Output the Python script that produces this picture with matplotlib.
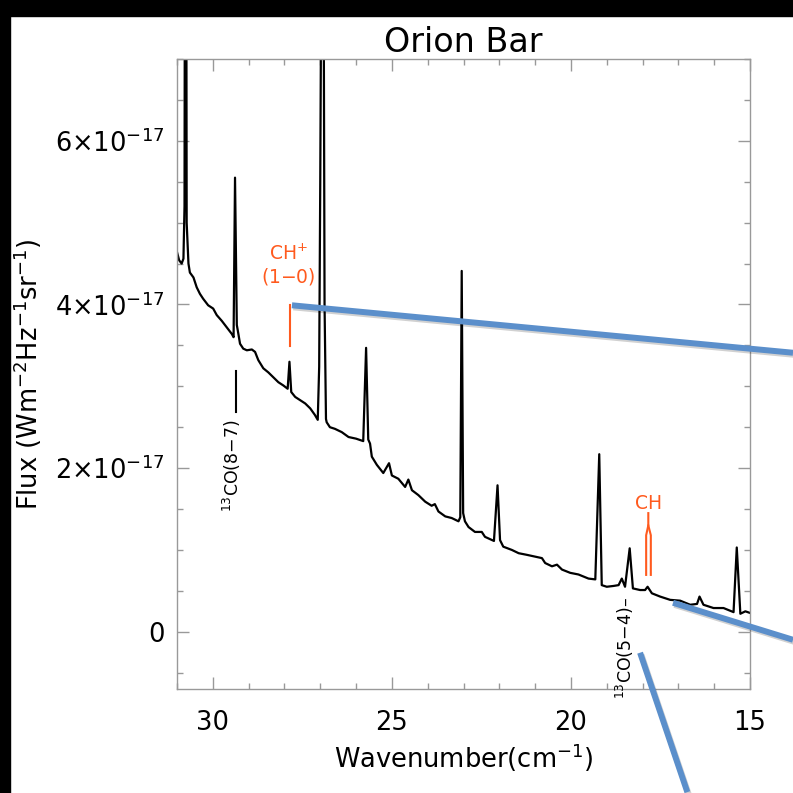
import numpy as np
import matplotlib
matplotlib.use("Agg")
import matplotlib.pyplot as plt
import matplotlib.patheffects as pe
from matplotlib.ticker import MultipleLocator, FuncFormatter
from matplotlib.patches import Rectangle

plt.rcParams["font.family"] = ["DejaVu Sans"]
plt.rcParams["mathtext.default"] = "regular"

# Spectrum: wavenumber (cm-1), flux (units of 1e-17 W m-2 Hz-1 sr-1)
wavenumber = [
    31.00, 30.94, 30.87, 30.82, 30.79, 30.76, 30.73, 30.68, 30.64, 30.54,
    30.45, 30.36, 30.27, 30.13, 29.99, 29.89, 29.75, 29.61, 29.47, 29.42,
    29.38, 29.33, 29.29, 29.24, 29.15, 29.05, 28.91, 28.82, 28.73, 28.59,
    28.45, 28.31, 28.17, 28.03, 27.91, 27.86, 27.81, 27.70, 27.56, 27.42,
    27.28, 27.15, 27.07, 27.03, 27.00, 26.93, 26.88, 26.84, 26.82, 26.73,
    26.59, 26.40, 26.21, 26.00, 25.80, 25.72, 25.66, 25.61, 25.56, 25.42,
    25.24, 25.08, 25.00, 24.82, 24.63, 24.54, 24.44, 24.26, 24.07, 23.89,
    23.80, 23.70, 23.51, 23.33, 23.14, 23.09, 23.05, 23.01, 22.96, 22.86,
    22.68, 22.49, 22.40, 22.15, 22.05, 21.98, 21.89, 21.65, 21.46, 21.23,
    20.81, 20.72, 20.53, 20.39, 20.25, 20.02, 19.79, 19.51, 19.32, 19.21,
    19.14, 19.00, 18.81, 18.67, 18.58, 18.49, 18.36, 18.27, 18.07, 17.93,
    17.86, 17.74, 17.51, 17.23, 16.95, 16.67, 16.48, 16.41, 16.30, 16.02,
    15.74, 15.46, 15.37, 15.27, 15.13, 15.00,
]
flux = [
    4.64, 4.54, 4.50, 4.56, 5.20, 15.0, 5.00, 4.50, 4.39, 4.33,
    4.21, 4.13, 4.07, 3.99, 3.95, 3.87, 3.80, 3.72, 3.64, 3.60,
    5.55, 3.75, 3.65, 3.52, 3.46, 3.44, 3.45, 3.42, 3.32, 3.22,
    3.17, 3.11, 3.05, 3.01, 2.97, 3.30, 2.93, 2.87, 2.83, 2.79,
    2.73, 2.65, 2.59, 3.24, 5.50, 12.0, 4.00, 2.60, 2.56, 2.50,
    2.48, 2.44, 2.38, 2.36, 2.33, 3.47, 2.35, 2.30, 2.14, 2.04,
    1.94, 2.06, 1.91, 1.87, 1.77, 1.86, 1.73, 1.67, 1.59, 1.54,
    1.56, 1.47, 1.41, 1.39, 1.35, 1.40, 4.41, 1.45, 1.35, 1.28,
    1.22, 1.22, 1.16, 1.11, 1.79, 1.12, 1.04, 1.00, 0.96, 0.94,
    0.90, 0.84, 0.80, 0.82, 0.76, 0.72, 0.70, 0.65, 0.64, 2.17,
    0.57, 0.55, 0.56, 0.57, 0.65, 0.55, 1.02, 0.53, 0.51, 0.51,
    0.55, 0.47, 0.43, 0.39, 0.38, 0.33, 0.34, 0.43, 0.33, 0.29,
    0.29, 0.24, 1.03, 0.22, 0.25, 0.23,
]
scale = 1e-17

yticks = [0, 2, 4, 6]

# line identifications
chp_label = ["CH$^{+}$", "(1$-$0)"]
chp_pos = [27.90, 4.62, 4.34]           # x, y of the two label rows
chp_tick = [27.84, 3.99, 3.49]          # x, y_top, y_bottom
co87_label = "$^{13}$CO(8$-$7)"
co87_tick = [29.35, 3.19, 2.69]
co87_text = [29.47, 2.60]
co54_label = "$^{13}$CO(5$-$4)–"
co54_text = [18.49, 0.43]
ch_label = "CH"
ch_text = [17.84, 1.57]
ch_left_x = [17.90, 17.90, 17.84, 17.84]
ch_left_y = [0.695, 1.18, 1.30, 1.45]
ch_right_x = [17.77, 17.77, 17.84]
ch_right_y = [0.695, 1.18, 1.30]

# blue pointer lines laid over the slide (data coords, run past the axes)
pointers = [
    ([27.79, 13.80], [3.99, 3.41]),
    ([17.15, 13.80], [0.354, -0.098]),
    ([18.07, 16.75], [-0.256, -1.96]),
]

orange = "#ff5a1e"
blue = "#5b8fcb"
grey = "#999999"

fig = plt.figure(figsize=(7.93, 7.93), dpi=100)
ax = fig.add_axes([0.2232, 0.1311, 0.7226, 0.7945])

# black slide edges
fig.add_artist(Rectangle((0, 1 - 16 / 793), 1, 16 / 793, transform=fig.transFigure,
                         color="black", zorder=0))
fig.add_artist(Rectangle((0, 0), 10 / 793, 1, transform=fig.transFigure,
                         color="black", zorder=0))

ax.plot(wavenumber, np.array(flux) * scale, color="black", lw=1.6)

ax.set_xlim(31, 15)
ax.set_ylim(-0.7 * scale, 7 * scale)
ax.xaxis.set_major_locator(MultipleLocator(5))
ax.xaxis.set_minor_locator(MultipleLocator(1))
ax.set_yticks([v * scale for v in yticks])
ax.yaxis.set_minor_locator(MultipleLocator(0.5 * scale))
ax.yaxis.set_major_formatter(FuncFormatter(
    lambda v, p: "0" if abs(v) < 1e-25 else "%d$\\times$10$^{-17}$" % round(v / scale)))

for s in ax.spines.values():
    s.set_color(grey)
    s.set_linewidth(1.0)
ax.tick_params(which="both", direction="in", top=True, right=True, color=grey,
               labelsize=18.5, width=1.0)
ax.tick_params(which="major", length=8.6)
ax.tick_params(which="minor", length=4.3)
ax.tick_params(axis="x", pad=15)
ax.tick_params(axis="y", pad=9)

ax.set_xlabel("Wavenumber(cm$^{-1}$)", fontsize=18.5, labelpad=4)
ax.set_ylabel("Flux (Wm$^{-2}$Hz$^{-1}$sr$^{-1}$)", fontsize=18.5, labelpad=8)
ax.set_title("Orion Bar", fontsize=24, pad=5)

# annotations
ax.text(chp_pos[0], chp_pos[1] * scale, chp_label[0], color=orange, fontsize=13.5,
        ha="center", va="center")
ax.text(chp_pos[0], chp_pos[2] * scale, chp_label[1], color=orange, fontsize=13.5,
        ha="center", va="center")
ax.plot([chp_tick[0]] * 2, [chp_tick[1] * scale, chp_tick[2] * scale], color=orange, lw=1.5)

ax.plot([co87_tick[0]] * 2, [co87_tick[1] * scale, co87_tick[2] * scale], color="black", lw=1.5)
ax.text(co87_text[0], co87_text[1] * scale, co87_label, rotation=90, fontsize=12.5,
        ha="center", va="top")
ax.text(co54_text[0], co54_text[1] * scale, co54_label, rotation=90, fontsize=12.5,
        ha="center", va="top", clip_on=False)

ax.text(ch_text[0], ch_text[1] * scale, ch_label, color=orange, fontsize=13.5,
        ha="center", va="center")
ax.plot(ch_left_x, np.array(ch_left_y) * scale, color=orange, lw=1.5)
ax.plot(ch_right_x, np.array(ch_right_y) * scale, color=orange, lw=1.5)

for px, py in pointers:
    ax.plot(px, np.array(py) * scale, color=blue, lw=4.3, clip_on=False,
            solid_capstyle="butt", zorder=5,
            path_effects=[pe.SimpleLineShadow(offset=(1, -1.5), alpha=0.18), pe.Normal()])

fig.savefig("out.png", dpi=100)
